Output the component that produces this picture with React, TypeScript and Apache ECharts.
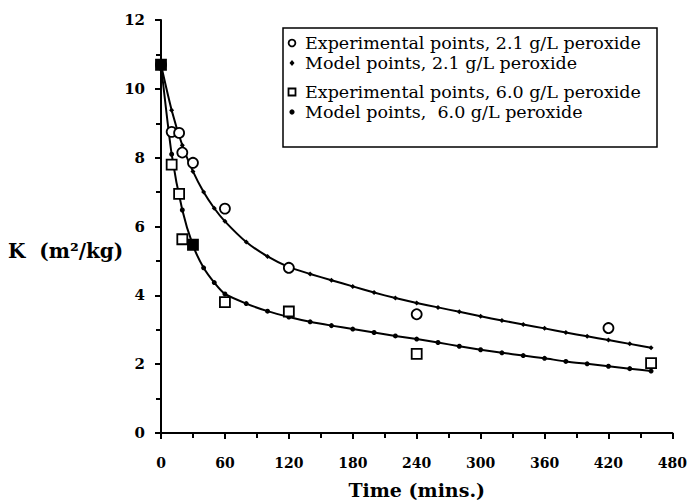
import React, { useEffect, useRef } from "react";
import * as echarts from "echarts";

// Experimental data (time in minutes, K in m²/kg)
const exp21Times = [0, 10, 17, 20, 30, 60, 120, 240, 420];
const exp21Values = [10.7, 8.75, 8.72, 8.15, 7.85, 6.52, 4.8, 3.45, 3.05];

const exp60Times = [0, 10, 17, 20, 30, 60, 120, 240, 460];
const exp60Values = [10.7, 7.8, 6.95, 5.63, 5.47, 3.8, 3.53, 2.3, 2.03];

// Model points
const modelTimes = [0, 10, 20, 30, 40, 50, 60, 80, 100, 120, 140, 160, 180, 200, 220, 240, 260, 280, 300, 320, 340, 360, 380, 400, 420, 440, 460];
const model21Values = [10.7, 9.38, 8.36, 7.6, 7.0, 6.53, 6.15, 5.55, 5.13, 4.82, 4.62, 4.44, 4.26, 4.08, 3.92, 3.78, 3.65, 3.52, 3.39, 3.27, 3.15, 3.04, 2.92, 2.81, 2.7, 2.59, 2.48];
const model60Values = [10.7, 8.1, 6.48, 5.45, 4.8, 4.37, 4.04, 3.76, 3.54, 3.37, 3.23, 3.12, 3.02, 2.92, 2.82, 2.73, 2.63, 2.52, 2.42, 2.33, 2.25, 2.17, 2.08, 2.01, 1.94, 1.87, 1.8];

const legendNames = [
  "Experimental points, 2.1 g/L peroxide",
  "Model points, 2.1 g/L peroxide",
  "Experimental points, 6.0 g/L peroxide",
  "Model points,  6.0 g/L peroxide",
];

// squares that appear solid in the original (overlapping marks)
const solidSquareIdx = [0, 4];

const zip = (xs: number[], ys: number[]) => xs.map((x, i) => [x, ys[i]]);

const SERIF = "DejaVu Serif";

export default function App() {
  const ref = useRef<HTMLDivElement>(null);
  useEffect(() => {
    if (!ref.current) return;
    const chart = echarts.init(ref.current, undefined, { renderer: "svg" });
    const lx = 292;
    const tx = 305;
    const rows = [43, 63, 92, 112];
    const legendText = (i: number) => ({
      type: "text",
      x: tx,
      y: rows[i],
      z: 12,
      style: {
        text: legendNames[i],
        fontFamily: SERIF,
        fontSize: 17.5,
        fill: "#000",
        verticalAlign: "middle",
        align: "left",
      },
    });
    const squareData = zip(exp60Times, exp60Values).map((v, i) =>
      solidSquareIdx.includes(i) ? { value: v, itemStyle: { color: "#000" } } : v
    );
    chart.setOption({
      animation: false,
      backgroundColor: "#fff",
      grid: { left: 161, right: 13, top: 20, bottom: 71, containLabel: false },
      xAxis: {
        type: "value",
        min: 0,
        max: 480,
        interval: 60,
        name: "Time (mins.)",
        nameLocation: "middle",
        nameGap: 47,
        nameTextStyle: { fontFamily: SERIF, fontWeight: "bold", fontSize: 19, color: "#000" },
        axisLine: { show: true, lineStyle: { color: "#000", width: 2 } },
        axisTick: { show: true, inside: false, length: 6, lineStyle: { color: "#000", width: 2 } },
        minorTick: { show: true, splitNumber: 2, length: 5, lineStyle: { color: "#000", width: 2 } },
        splitLine: { show: false },
        axisLabel: { fontFamily: SERIF, fontWeight: "bold", fontSize: 14, color: "#000", margin: 23 },
      },
      yAxis: {
        type: "value",
        min: 0,
        max: 12,
        interval: 2,
        axisLine: { show: true, onZero: false, lineStyle: { color: "#000", width: 2 } },
        axisTick: { show: true, inside: false, length: 6, lineStyle: { color: "#000", width: 2 } },
        minorTick: { show: true, splitNumber: 2, length: 5, lineStyle: { color: "#000", width: 2 } },
        splitLine: { show: false },
        axisLabel: { fontFamily: SERIF, fontWeight: "bold", fontSize: 15, color: "#000", margin: 16 },
      },
      series: [
        {
          name: legendNames[1],
          type: "line",
          data: zip(modelTimes, model21Values),
          smooth: 0.2,
          symbol: "diamond",
          symbolSize: 5,
          showSymbol: true,
          lineStyle: { color: "#000", width: 2 },
          itemStyle: { color: "#000" },
          z: 2,
        },
        {
          name: legendNames[3],
          type: "line",
          data: zip(modelTimes, model60Values),
          smooth: 0.2,
          symbol: "circle",
          symbolSize: 5,
          showSymbol: true,
          lineStyle: { color: "#000", width: 2 },
          itemStyle: { color: "#000" },
          z: 2,
        },
        {
          name: legendNames[0],
          type: "scatter",
          data: zip(exp21Times, exp21Values),
          symbol: "circle",
          symbolSize: 10,
          itemStyle: { color: "#fff", borderColor: "#000", borderWidth: 1.8, opacity: 1 },
          z: 3,
        },
        {
          name: legendNames[2],
          type: "scatter",
          data: squareData,
          symbol: "rect",
          symbolSize: 10,
          itemStyle: { color: "#fff", borderColor: "#000", borderWidth: 1.8, opacity: 1 },
          z: 4,
        },
      ],
      graphic: [
        {
          type: "text",
          left: 8,
          top: 241,
          style: {
            text: "K  (m²/kg)",
            fontFamily: SERIF,
            fontWeight: "bold",
            fontSize: 20,
            fill: "#000",
          },
        },
        {
          type: "rect",
          shape: { x: 283, y: 28, width: 374, height: 119 },
          style: { fill: "#fff", stroke: "#000", lineWidth: 1.5 },
          z: 10,
        },
        { type: "circle", z: 12, shape: { cx: lx, cy: rows[0], r: 3.4 }, style: { fill: "#fff", stroke: "#000", lineWidth: 1.8 } },
        { type: "polygon", z: 12, shape: { points: [[lx, rows[1] - 3], [lx + 2.5, rows[1]], [lx, rows[1] + 3], [lx - 2.5, rows[1]]] }, style: { fill: "#000" } },
        { type: "rect", z: 12, shape: { x: lx - 3.5, y: rows[2] - 3.5, width: 7, height: 7 }, style: { fill: "#fff", stroke: "#000", lineWidth: 1.8 } },
        { type: "circle", z: 12, shape: { cx: lx, cy: rows[3], r: 2.6 }, style: { fill: "#000" } },
        legendText(0),
        legendText(1),
        legendText(2),
        legendText(3),
      ],
    });
    return () => chart.dispose();
  }, []);
  return <div ref={ref} style={{ position: "absolute", left: 0, top: 0, width: 690, height: 504 }} />;
}
